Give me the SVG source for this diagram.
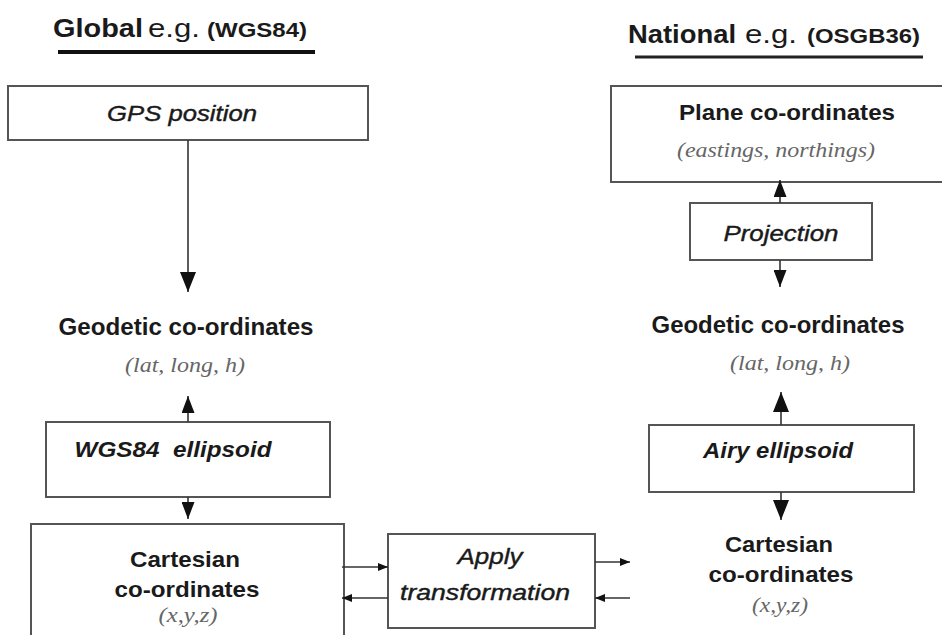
<svg xmlns="http://www.w3.org/2000/svg" width="942" height="635" viewBox="0 0 942 635">
<style>
.b{font-family:"Liberation Sans",Arial,sans-serif;font-weight:bold;fill:#1a1a1a}
.n{font-family:"Liberation Sans",Arial,sans-serif;fill:#1a1a1a}
.i{font-family:"Liberation Sans",Arial,sans-serif;font-style:italic;fill:#1a1a1a;stroke:#1a1a1a;stroke-width:0.4}
.bi{font-family:"Liberation Sans",Arial,sans-serif;font-style:italic;font-weight:bold;fill:#1a1a1a}
.s{font-family:"Liberation Serif","Times New Roman",serif;font-style:italic;fill:#666}
.box{fill:#fff;stroke:#555;stroke-width:2}
.ln{stroke:#333;stroke-width:1.6;fill:none}
.ah{fill:#111}
</style>
<defs>
<marker id="big" viewBox="0 0 20 16" markerWidth="20" markerHeight="16" refX="20" refY="8" orient="auto" markerUnits="userSpaceOnUse"><path class="ah" d="M0,0 L20,8 L0,16 z"/></marker>
<marker id="med" viewBox="0 0 17 13" markerWidth="17" markerHeight="13" refX="17" refY="6.5" orient="auto" markerUnits="userSpaceOnUse"><path class="ah" d="M0,0 L17,6.5 L0,13 z"/></marker>
<marker id="sm" viewBox="0 0 10 8" markerWidth="10" markerHeight="8" refX="10" refY="4" orient="auto" markerUnits="userSpaceOnUse"><path class="ah" d="M0,0 L10,4 L0,8 z"/></marker>
</defs>
<rect width="942" height="635" fill="#fff"/>

<g id="header-global">
<text class="b" x="53" y="37" font-size="26" textLength="90" lengthAdjust="spacingAndGlyphs">Global</text>
<text class="n" x="148" y="37" font-size="26" textLength="52" lengthAdjust="spacingAndGlyphs">e.g.</text>
<text class="b" x="207" y="37" font-size="20" textLength="100" lengthAdjust="spacingAndGlyphs">(WGS84)</text>
<rect x="58" y="50" width="257" height="4" fill="#111"/>
</g>

<g id="header-national">
<text class="b" x="628" y="43" font-size="26" textLength="108" lengthAdjust="spacingAndGlyphs">National</text>
<text class="n" x="745" y="43" font-size="26" textLength="52" lengthAdjust="spacingAndGlyphs">e.g.</text>
<text class="b" x="807" y="43" font-size="21" textLength="113" lengthAdjust="spacingAndGlyphs">(OSGB36)</text>
<rect x="635" y="55.5" width="288" height="3" fill="#222"/>
</g>

<g id="gps">
<rect class="box" x="8" y="86" width="360" height="54"/>
<text class="i" x="182" y="121" font-size="22" text-anchor="middle" textLength="150" lengthAdjust="spacingAndGlyphs">GPS position</text>
</g>

<g id="geodetic-global">
<text class="b" x="186" y="335" font-size="24" text-anchor="middle" textLength="255" lengthAdjust="spacingAndGlyphs">Geodetic co-ordinates</text>
<text class="s" x="185" y="372" font-size="20" text-anchor="middle" textLength="120" lengthAdjust="spacingAndGlyphs">(lat, long, h)</text>
</g>

<g id="wgs84-ellipsoid">
<rect class="box" x="46" y="422" width="284" height="75"/>
<text class="bi" x="173" y="457" font-size="22" text-anchor="middle" textLength="197" lengthAdjust="spacingAndGlyphs" xml:space="preserve">WGS84  ellipsoid</text>
</g>

<g id="cartesian-global">
<rect class="box" x="31" y="524" width="313" height="130"/>
<text class="b" x="185" y="567" font-size="22" text-anchor="middle" textLength="110" lengthAdjust="spacingAndGlyphs">Cartesian</text>
<text class="b" x="187" y="597" font-size="22" text-anchor="middle" textLength="145" lengthAdjust="spacingAndGlyphs">co-ordinates</text>
<text class="s" x="188" y="622" font-size="20" text-anchor="middle" textLength="59" lengthAdjust="spacingAndGlyphs">(x,y,z)</text>
</g>

<g id="apply-transformation">
<rect class="box" x="388" y="534" width="207" height="94"/>
<text class="i" x="490" y="564" font-size="22" text-anchor="middle" textLength="65" lengthAdjust="spacingAndGlyphs">Apply</text>
<text class="i" x="485" y="600" font-size="22" text-anchor="middle" textLength="170" lengthAdjust="spacingAndGlyphs">transformation</text>
</g>

<g id="plane">
<rect class="box" x="611" y="86" width="340" height="96"/>
<text class="b" x="787" y="120" font-size="22" text-anchor="middle" textLength="216" lengthAdjust="spacingAndGlyphs">Plane co-ordinates</text>
<text class="s" x="776" y="157" font-size="20" text-anchor="middle" textLength="198" lengthAdjust="spacingAndGlyphs">(eastings, northings)</text>
</g>

<g id="projection">
<rect class="box" x="690" y="203" width="182" height="57"/>
<text class="i" x="781" y="241" font-size="22" text-anchor="middle" textLength="115" lengthAdjust="spacingAndGlyphs">Projection</text>
</g>

<g id="geodetic-national">
<text class="b" x="778" y="333" font-size="24" text-anchor="middle" textLength="253" lengthAdjust="spacingAndGlyphs">Geodetic co-ordinates</text>
<text class="s" x="790" y="370" font-size="20" text-anchor="middle" textLength="120" lengthAdjust="spacingAndGlyphs">(lat, long, h)</text>
</g>

<g id="airy-ellipsoid">
<rect class="box" x="649" y="425" width="265" height="67"/>
<text class="bi" x="778" y="458" font-size="22" text-anchor="middle" textLength="150" lengthAdjust="spacingAndGlyphs">Airy ellipsoid</text>
</g>

<g id="cartesian-national">
<text class="b" x="779" y="552" font-size="22" text-anchor="middle" textLength="108" lengthAdjust="spacingAndGlyphs">Cartesian</text>
<text class="b" x="781" y="582" font-size="22" text-anchor="middle" textLength="145" lengthAdjust="spacingAndGlyphs">co-ordinates</text>
<text class="s" x="780" y="612" font-size="20" text-anchor="middle" textLength="56" lengthAdjust="spacingAndGlyphs">(x,y,z)</text>
</g>

<g id="connectors">
<line class="ln" x1="188" y1="140" x2="188" y2="292" marker-end="url(#big)"/>
<line class="ln" x1="188" y1="422" x2="188" y2="396" marker-end="url(#med)"/>
<line class="ln" x1="188" y1="497" x2="188" y2="519" marker-end="url(#med)"/>
<line class="ln" x1="342" y1="567" x2="388" y2="567" marker-end="url(#sm)"/>
<line class="ln" x1="388" y1="598" x2="342" y2="598" marker-end="url(#sm)"/>
<line class="ln" x1="595" y1="562" x2="630" y2="562" marker-end="url(#sm)"/>
<line class="ln" x1="630" y1="598" x2="595" y2="598" marker-end="url(#sm)"/>
<line class="ln" x1="780" y1="203" x2="780" y2="180" marker-end="url(#med)"/>
<line class="ln" x1="780" y1="260" x2="780" y2="287" marker-end="url(#med)"/>
<line class="ln" x1="781" y1="425" x2="781" y2="392" marker-end="url(#big)"/>
<line class="ln" x1="781" y1="492" x2="781" y2="520" marker-end="url(#big)"/>
</g>
</svg>
